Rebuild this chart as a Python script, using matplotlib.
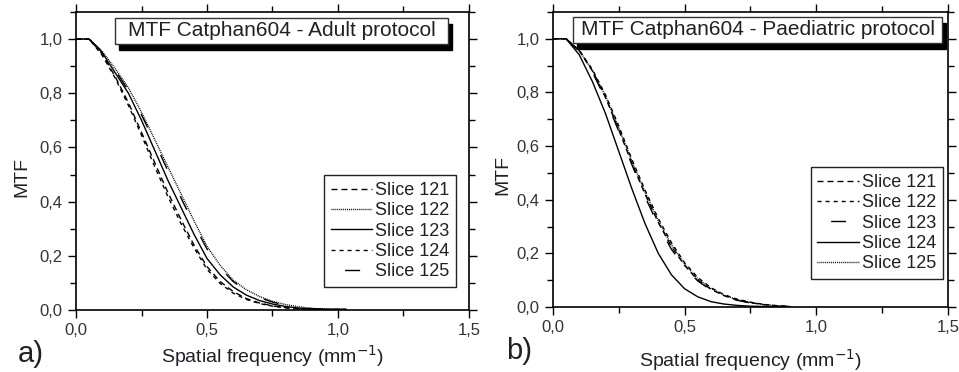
import numpy as np
import matplotlib as mpl
mpl.use('Agg')
import matplotlib.pyplot as plt
from matplotlib.patches import Rectangle
from matplotlib.ticker import FuncFormatter, MultipleLocator

mpl.rcParams['font.family'] = ['Liberation Sans', 'DejaVu Sans']

# spatial frequency grids (mm^-1)
freq_a = [0.0, 0.05, 0.10, 0.15, 0.20, 0.25, 0.30, 0.35, 0.40, 0.45, 0.50,
          0.55, 0.60, 0.65, 0.70, 0.75, 0.80, 0.85, 0.90, 0.95, 1.00, 1.03]
freq_b = [0.0, 0.05, 0.10, 0.15, 0.20, 0.25, 0.30, 0.35, 0.40, 0.45, 0.50,
          0.55, 0.60, 0.65, 0.70, 0.75, 0.80, 0.85, 0.90]

# adult protocol
adult_121 = [1.0, 1.0, 0.945, 0.86, 0.765, 0.655, 0.545, 0.435, 0.335, 0.24, 0.16,
             0.105, 0.068, 0.042, 0.026, 0.015, 0.009, 0.005, 0.003, 0.002, 0.002, 0.002]
adult_122 = [1.0, 1.0, 0.955, 0.89, 0.82, 0.73, 0.63, 0.53, 0.43, 0.33, 0.235,
             0.165, 0.11, 0.075, 0.05, 0.032, 0.02, 0.012, 0.006, 0.003, 0.002, 0.002]
adult_123 = [1.0, 1.0, 0.95, 0.875, 0.80, 0.70, 0.59, 0.48, 0.38, 0.28, 0.19,
             0.13, 0.085, 0.055, 0.035, 0.022, 0.013, 0.007, 0.004, 0.003, 0.003, 0.003]
adult_124 = [1.0, 1.0, 0.94, 0.855, 0.755, 0.645, 0.53, 0.42, 0.32, 0.23, 0.15,
             0.098, 0.062, 0.039, 0.024, 0.014, 0.008, 0.004, 0.002, 0.001, 0.001, 0.001]
adult_125 = [1.0, 1.0, 0.953, 0.885, 0.81, 0.72, 0.62, 0.515, 0.415, 0.315, 0.225,
             0.155, 0.105, 0.07, 0.046, 0.029, 0.018, 0.01, 0.005, 0.003, 0.002, 0.002]

# paediatric protocol
paed_121 = [1.0, 1.0, 0.955, 0.88, 0.78, 0.66, 0.535, 0.42, 0.315, 0.225, 0.155,
            0.10, 0.066, 0.042, 0.026, 0.016, 0.009, 0.004, 0.001]
paed_122 = [1.0, 1.0, 0.957, 0.885, 0.79, 0.675, 0.55, 0.435, 0.33, 0.24, 0.165,
            0.11, 0.072, 0.046, 0.029, 0.018, 0.01, 0.005, 0.002]
paed_123 = [1.0, 1.0, 0.953, 0.875, 0.775, 0.655, 0.53, 0.41, 0.305, 0.215, 0.148,
            0.097, 0.063, 0.04, 0.025, 0.015, 0.008, 0.004, 0.001]
paed_124 = [1.0, 1.0, 0.94, 0.84, 0.72, 0.58, 0.44, 0.31, 0.20, 0.12, 0.068,
            0.038, 0.02, 0.011, 0.006, 0.003, 0.002, 0.001, 0.001]
paed_125 = [1.0, 1.0, 0.956, 0.882, 0.785, 0.668, 0.543, 0.428, 0.322, 0.232, 0.16,
            0.105, 0.069, 0.044, 0.027, 0.017, 0.009, 0.005, 0.002]

labels = ['Slice 121', 'Slice 122', 'Slice 123', 'Slice 124', 'Slice 125']

# line styles
DASH = (0, (4.3, 2.9))
SHORT = (0, (2.9, 2.9))
DOT = (0, (0.7, 0.7))
SOLID = '-'
LONG = (23.0, (10.8, 22.0))

TEXT_COL = '#202028'


def comma(v, pos):
    return ('%.1f' % v).replace('.', ',')


def setup_axes(ax):
    ax.set_xlim(0, 1.5)
    ax.set_ylim(0, 1.1)
    ax.xaxis.set_major_locator(MultipleLocator(0.5))
    ax.xaxis.set_minor_locator(MultipleLocator(0.25))
    ax.yaxis.set_major_locator(MultipleLocator(0.2))
    ax.yaxis.set_minor_locator(MultipleLocator(0.1))
    ax.xaxis.set_major_formatter(FuncFormatter(comma))
    ax.yaxis.set_major_formatter(FuncFormatter(comma))
    ax.tick_params(which='both', direction='out', top=True, right=True,
                   labelsize=12, labelcolor='#333333', width=1.0)
    ax.tick_params(which='major', length=6)
    ax.tick_params(which='minor', length=4)
    for s in ax.spines.values():
        s.set_linewidth(1.2)
    ax.set_ylabel('MTF', fontsize=14, color=TEXT_COL)
    ax.set_xlabel('Spatial frequency (mm$^{-1}$)', fontsize=14, color=TEXT_COL)


def title_box(ax, text, x0, x1, y0, y1):
    # shadow then box
    ax.add_patch(Rectangle((x0 + 0.011, y0 - 0.02), x1 - x0, y1 - y0,
                           transform=ax.transAxes, facecolor='black',
                           edgecolor='black', zorder=5, clip_on=False))
    ax.add_patch(Rectangle((x0, y0), x1 - x0, y1 - y0,
                           transform=ax.transAxes, facecolor='white',
                           edgecolor='#333333', linewidth=1.0, zorder=6,
                           clip_on=False))
    ax.text((x0 + x1) / 2, (y0 + y1) / 2, text, transform=ax.transAxes,
            ha='center', va='center', fontsize=15, color=TEXT_COL, zorder=7)


fig = plt.figure(figsize=(9.59, 3.72), dpi=100)
ax1 = fig.add_axes([0.0793, 0.1667, 0.4097, 0.8011])
ax2 = fig.add_axes([0.5766, 0.1747, 0.4119, 0.7931])

# panel a
for y, ls, lab in zip([adult_121, adult_122, adult_123, adult_124, adult_125],
                      [DASH, DOT, SOLID, SHORT, LONG], labels):
    ax1.plot(freq_a, y, color='black', linestyle=ls, linewidth=1.0, label=lab)

# panel b
for y, ls, lab in zip([paed_121, paed_122, paed_123, paed_124, paed_125],
                      [DASH, SHORT, LONG, SOLID, DOT], labels):
    ax2.plot(freq_b, y, color='black', linestyle=ls, linewidth=1.0, label=lab)

for ax in (ax1, ax2):
    setup_axes(ax)

ax1.xaxis.set_label_coords(0.5, -0.112)
ax2.xaxis.set_label_coords(0.5, -0.135)
ax1.yaxis.set_label_coords(-0.117, 0.446)
ax2.yaxis.set_label_coords(-0.106, 0.447)

title_box(ax1, 'MTF Catphan604 - Adult protocol', 0.099, 0.947, 0.893, 0.980)
title_box(ax2, 'MTF Catphan604 - Paediatric protocol', 0.051, 0.985, 0.895, 0.983)

leg_kw = dict(loc='lower right', fontsize=13, frameon=True, fancybox=False,
              edgecolor='#222222', framealpha=1, handlelength=2.3,
              handletextpad=0.15, labelspacing=0.18, borderpad=0.38,
              borderaxespad=0)
leg1 = ax1.legend(bbox_to_anchor=(0.967, 0.077), **leg_kw)
leg2 = ax2.legend(bbox_to_anchor=(0.987, 0.095), **leg_kw)
for leg in (leg1, leg2):
    leg.get_frame().set_linewidth(1.0)
    for t in leg.get_texts():
        t.set_color(TEXT_COL)

# panel letters
fig.text(0.018, 0.012, 'a)', fontsize=21, color=TEXT_COL, va='bottom')
fig.text(0.528, 0.02, 'b)', fontsize=21, color=TEXT_COL, va='bottom')

fig.savefig('out.png', dpi=100)
